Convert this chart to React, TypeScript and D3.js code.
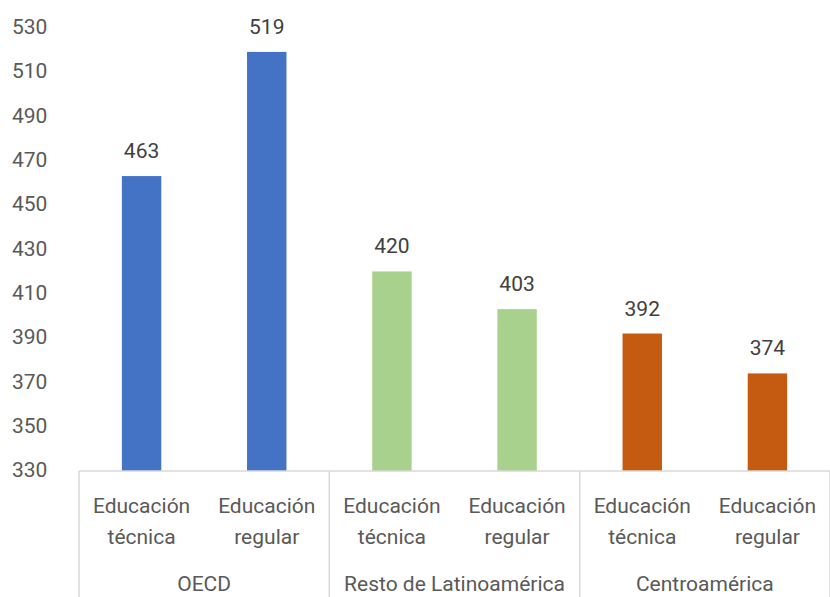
import React from "react";
import * as d3 from "d3";

const groups = ["OECD", "Resto de Latinoamérica", "Centroamérica"];
const subcats = ["Educación técnica", "Educación regular"];
const values = [463, 519, 420, 403, 392, 374];
const colors = ["#4472C4", "#A9D18E", "#C55A11"];
const yTicks = [330, 350, 370, 390, 410, 430, 450, 470, 490, 510, 530];

const W = 830, H = 597;
const left = 79, right = 830, base = 471, top = 27.5;
const FONT = "Roboto, 'Noto Sans', sans-serif";
const FS = 21;

export default function App() {
  const items = groups.flatMap((g, gi) => subcats.map((s, si) => ({ g, gi, s, si, v: values[gi * 2 + si], key: `${gi}-${si}` })));
  const x = d3.scaleBand<string>().domain(items.map(d => d.key)).range([left, right]).paddingInner(0.685).paddingOuter(0.3425);
  const step = (right - left) / items.length;
  const y = d3.scaleLinear().domain([330, 530]).range([base, top]);
  const groupW = (right - left) / groups.length;
  return (
    <svg width={W} height={H} style={{ position: "absolute", left: 0, top: 0, background: "#fff" }} fontFamily={FONT}>
      {yTicks.map(t => (
        <text key={t} x={12} y={y(t) - 1} dy="0.35em" fontSize={FS} fill="#595959">{t}</text>
      ))}
      {items.map(d => (
        <g key={d.key}>
          <rect x={x(d.key)} y={y(d.v)} width={x.bandwidth()} height={base - y(d.v)} fill={colors[d.gi]} />
          <text x={x(d.key)! + x.bandwidth() / 2} y={y(d.v) - 18} textAnchor="middle" fontSize={FS} fill="#404040">{d.v}</text>
          {d.s.split(" ").map((w, i) => (
            <text key={i} x={left + step * (d.gi * 2 + d.si) + step / 2} y={base + 42 + i * 31} textAnchor="middle" fontSize={FS} fill="#595959">{w}</text>
          ))}
        </g>
      ))}
      <line x1={left} x2={right} y1={base} y2={base} stroke="#d9d9d9" strokeWidth={1.5} />
      {d3.range(groups.length + 1).map(i => (
        <line key={i} x1={left + i * groupW} x2={left + i * groupW} y1={base} y2={H} stroke="#d9d9d9" strokeWidth={1.5} />
      ))}
      {groups.map((g, i) => (
        <text key={g} x={left + groupW * i + groupW / 2} y={591} textAnchor="middle" fontSize={FS} fill="#595959">{g}</text>
      ))}
    </svg>
  );
}
